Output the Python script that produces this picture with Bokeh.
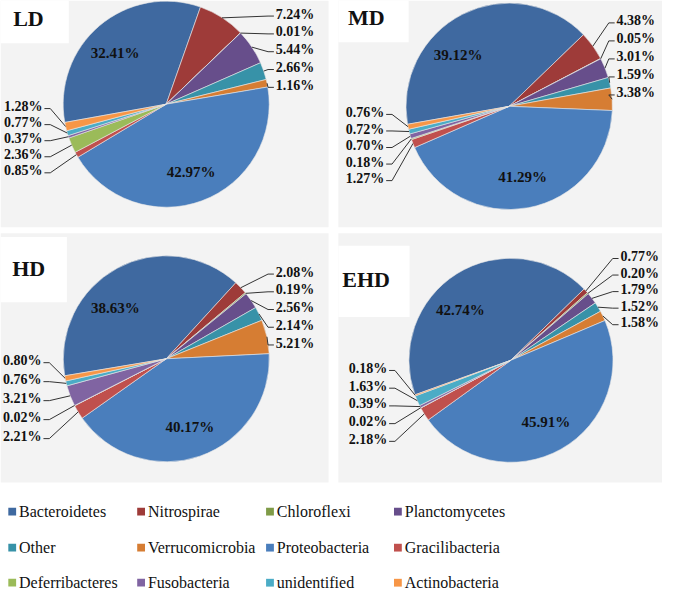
import math
from bokeh.plotting import figure
from bokeh.models import Range1d, ColumnDataSource
from bokeh.core.properties import value
from bokeh.embed import file_html
from bokeh.resources import INLINE

# ---------------- data ----------------
phyla = ["Bacteroidetes", "Nitrospirae", "Chloroflexi", "Planctomycetes",
         "Other", "Verrucomicrobia", "Proteobacteria", "Gracilibacteria",
         "Deferribacteres", "Fusobacteria", "unidentified", "Actinobacteria"]
colors = ["#3F69A0", "#9E3B39", "#7F9B47", "#674E8B",
          "#3792A8", "#D67D33", "#4A7EBC", "#C0504D",
          "#9BBB59", "#8064A2", "#4BACC6", "#F79646"]
groups = ["LD", "MD", "HD", "EHD"]
ld_vals = [32.41, 7.24, 0.01, 5.44, 2.66, 1.16, 42.97, 0.85, 2.36, 0.37, 0.77, 1.28]
md_vals = [39.12, 4.38, 0.05, 3.01, 1.59, 3.38, 41.29, 1.27, 0.18, 0.70, 0.72, 0.76]
hd_vals = [38.63, 2.08, 0.19, 2.56, 2.14, 5.21, 40.17, 2.21, 0.02, 3.21, 0.76, 0.80]
ehd_vals = [42.74, 0.77, 0.20, 1.79, 1.52, 1.58, 45.91, 2.18, 0.02, 0.39, 1.63, 0.18]
group_vals = [ld_vals, md_vals, hd_vals, ehd_vals]

# ---------------- layout (reference pixel space, y down) ----------------
W, H = 678, 606
def Y(y):
    return H - y

layout = {
    "LD":  dict(bg=(0, 336, 0, 233), box=(0, 70, 0, 44), txy=(13, 18),
                c=(169.7, 106.5), r=105.5, th0=259.8,
                rx=282, ry0=14, rdy=18.3, lx=43, ly0=109, ldy=16.5),
    "MD":  dict(bg=(346, 678, 0, 233), box=(346, 418, 0, 43), txy=(356, 17.5),
                c=(521, 108.7), r=105.7, th0=260.0,
                rx=631, ry0=21, rdy=18.5, lx=393, ly0=115, ldy=17.0),
    "HD":  dict(bg=(0, 336, 239, 495), box=(0, 68, 243, 310), txy=(12, 275.5),
                c=(169.8, 368), r=105.5, th0=260.5,
                rx=282, ry0=279, rdy=18.2, lx=42, ly0=370, ldy=19.5),
    "EHD": dict(bg=(346, 678, 239, 495), box=(346, 419, 252, 325), txy=(350, 286.5),
                c=(522.8, 369.5), r=104.5, th0=250.2,
                rx=635, ry0=263, rdy=17.0, lx=396, ly0=378, ldy=18.2),
}
right_idx = [1, 2, 3, 4, 5]
left_idx = [11, 10, 9, 8, 7]
FONT = value("'Liberation Serif', 'Times New Roman', serif")

p = figure(width=662, height=590, x_range=Range1d(0, W), y_range=Range1d(0, H),
           output_backend="svg", toolbar_location=None, min_border=0,
           x_axis_location=None, y_axis_location=None)
p.grid.visible = False
p.outline_line_color = None
p.background_fill_color = "white"
p.border_fill_color = "white"

for g, vals in zip(groups, group_vals):
    L = layout[g]
    l, r_, t, b = L["bg"]
    p.quad(left=[l], right=[r_], top=[Y(t)], bottom=[Y(b)],
           fill_color="#F3F3F3", line_color=None)
    l, r_, t, b = L["box"]
    p.quad(left=[l], right=[r_], top=[Y(t)], bottom=[Y(b)],
           fill_color="white", line_color=None)
    p.text(x=[L["txy"][0]], y=[Y(L["txy"][1])], text=[g], text_font=FONT,
           text_font_style="bold", text_font_size="22px", text_color="#111111",
           text_align="left", text_baseline="middle")

    cx, cy = L["c"]
    rad = L["r"]
    tot = sum(vals)
    cum = 0.0
    starts, ends, mids = [], [], []
    for v in vals:
        t1 = L["th0"] + cum / tot * 360.0
        cum += v
        t2 = L["th0"] + cum / tot * 360.0
        starts.append(math.radians(90 - t2))
        ends.append(math.radians(90 - t1))
        mids.append((t1 + t2) / 2.0)
    src = ColumnDataSource(dict(x=[cx] * len(vals), y=[Y(cy)] * len(vals),
                                start=starts, end=ends, color=colors))
    p.wedge(x="x", y="y", radius=rad, start_angle="start", end_angle="end",
            fill_color="color", line_color="#E8E8E8", line_width=0.6, source=src)

    def rim(i):
        th = math.radians(mids[i])
        return cx + rad * math.sin(th), cy - rad * math.cos(th)

    xs, ys, tx, ty, tt = [], [], [], [], []
    for k, i in enumerate(right_idx):
        yy = L["ry0"] + k * L["rdy"]
        px, py = rim(i)
        xs.append([px, L["rx"] - 8, L["rx"] - 2])
        ys.append([Y(py), Y(yy + 2), Y(yy + 2)])
        tx.append(L["rx"]); ty.append(Y(yy)); tt.append(f"{vals[i]:.2f}%")
    p.text(x=tx, y=ty, text=tt, text_font=FONT, text_font_style="bold",
           text_font_size="14px", text_color="#111111", text_align="left",
           text_baseline="middle")
    tx, ty, tt = [], [], []
    for k, i in enumerate(left_idx):
        yy = L["ly0"] + k * L["ldy"]
        px, py = rim(i)
        xs.append([px, L["lx"] + 8, L["lx"] + 2])
        ys.append([Y(py), Y(yy + 2), Y(yy + 2)])
        tx.append(L["lx"]); ty.append(Y(yy)); tt.append(f"{vals[i]:.2f}%")
    p.text(x=tx, y=ty, text=tt, text_font=FONT, text_font_style="bold",
           text_font_size="14px", text_color="#111111", text_align="right",
           text_baseline="middle")
    p.multi_line(xs=xs, ys=ys, line_color="#333333", line_width=1)

    # inner labels: Bacteroidetes (fixed placement angle), Proteobacteria (bisector)
    ix, iy, it = [], [], []
    for i, ang in ((0, 315.0), (6, mids[6])):
        a = math.radians(ang)
        ix.append(cx + 0.70 * rad * math.sin(a))
        iy.append(Y(cy - 0.70 * rad * math.cos(a)))
        it.append(f"{vals[i]:.2f}%")
    p.text(x=ix, y=iy, text=it, text_font=FONT, text_font_style="bold",
           text_font_size="15px", text_color="#111111", text_align="center",
           text_baseline="middle")

# ---------------- legend ----------------
leg_cols = [8, 140, 272, 403]
leg_rows = [525, 562, 598]
sq_l, sq_r, sq_t, sq_b, lx_, ly_ = [], [], [], [], [], []
for i, name in enumerate(phyla):
    sx = leg_cols[i % 4]
    sy = leg_rows[i // 4]
    sq_l.append(sx); sq_r.append(sx + 8)
    sq_t.append(Y(sy - 4)); sq_b.append(Y(sy + 4))
    lx_.append(sx + 11); ly_.append(Y(sy))
p.quad(left=sq_l, right=sq_r, top=sq_t, bottom=sq_b, fill_color=colors,
       line_color=None)
p.text(x=lx_, y=ly_, text=phyla, text_font=FONT, text_font_size="16px",
       text_color="#111111", text_align="left", text_baseline="middle")

open("out.html", "w").write(file_html(p, INLINE))
